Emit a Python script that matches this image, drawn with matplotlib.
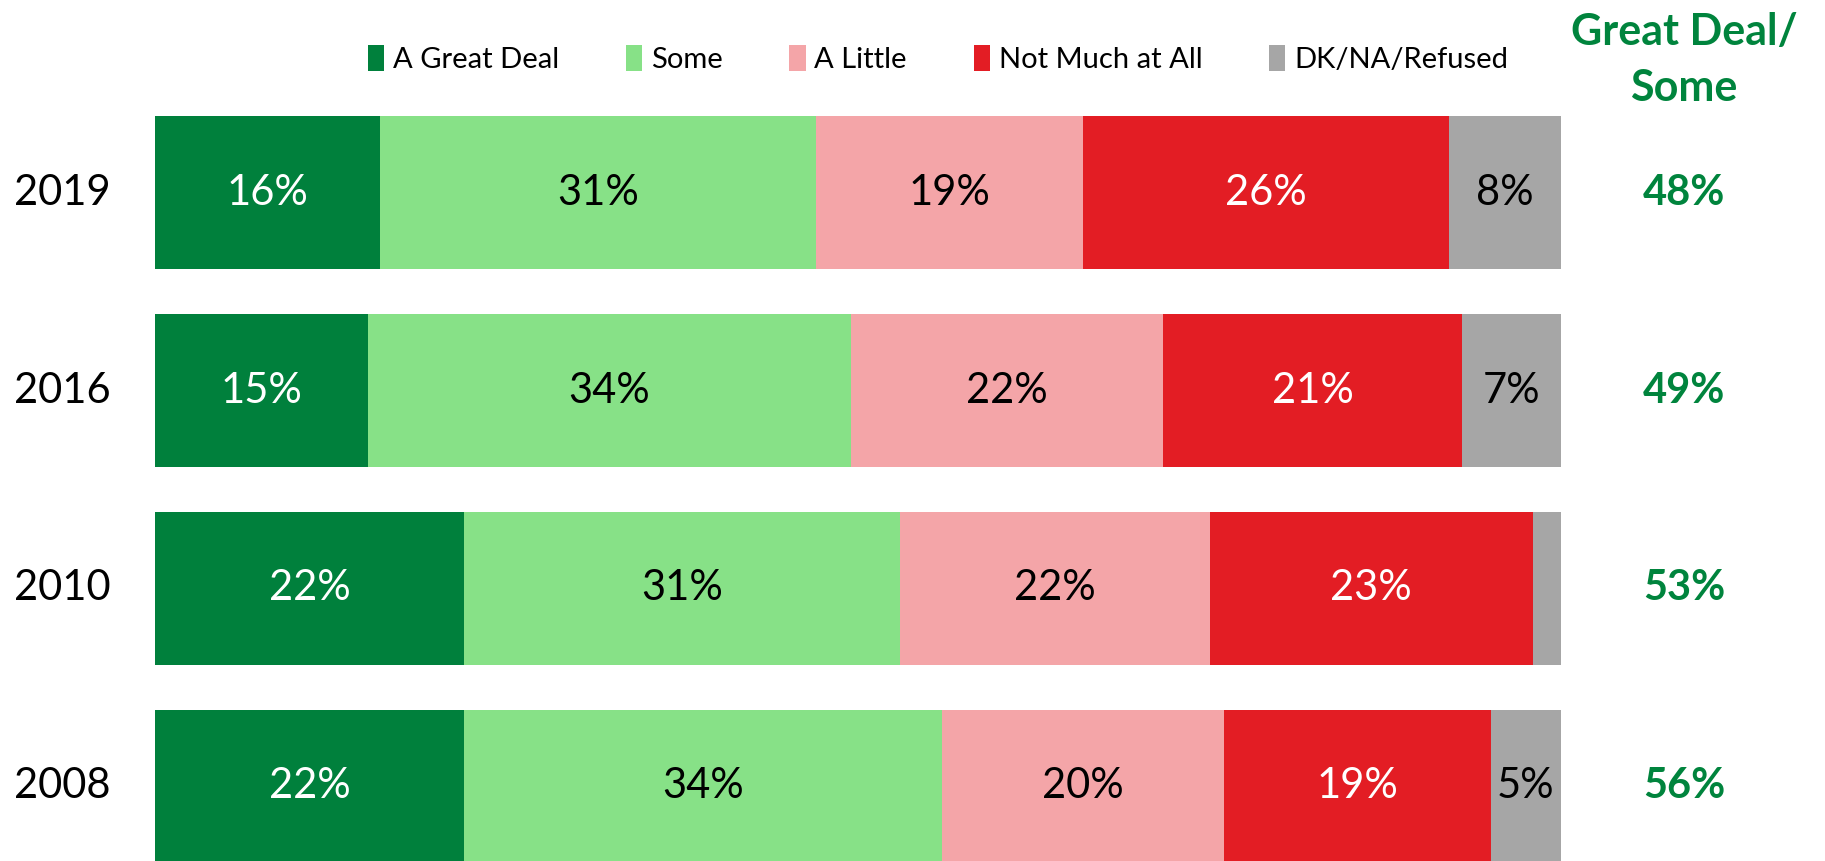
import matplotlib
matplotlib.use("Agg")
import matplotlib.pyplot as plt
import matplotlib.transforms as mtransforms
from matplotlib.patches import Patch
import numpy as np

plt.rcParams['font.family'] = ['Lato', 'DejaVu Sans']

years = ["2019", "2016", "2010", "2008"]
categories = ["A Great Deal", "Some", "A Little", "Not Much at All", "DK/NA/Refused"]
great_deal = [16, 15, 22, 22]
some = [31, 34, 31, 34]
a_little = [19, 22, 22, 20]
not_much = [26, 21, 23, 19]
dk_na = [8, 7, 2, 5]
great_some_labels = ["48%", "49%", "53%", "56%"]

colors = ["#00803C", "#87E187", "#F4A5A8", "#E31D24", "#A6A6A6"]
text_colors = ["white", "black", "black", "white", "black"]
green_text = "#00843D"

series = np.array([great_deal, some, a_little, not_much, dk_na], dtype=float)
totals = series.sum(axis=0)
shares = series / totals * 100  # 100% stacked

W, H = 1825, 861
fig = plt.figure(figsize=(W / 100, H / 100), dpi=100)
ax = fig.add_axes([155 / W, 0, 1406 / W, 1])

y = np.arange(len(years))
left = np.zeros(len(years))
handles = []
for i, cat in enumerate(categories):
    ax.barh(y, shares[i], left=left, height=0.77, color=colors[i],
            linewidth=0, label=cat)
    handles.append(Patch(facecolor=colors[i], label=cat))
    for j in range(len(years)):
        val = series[i][j]
        if val >= 5:
            ax.text(left[j] + shares[i][j] / 2, y[j], f"{int(val)}%",
                    ha="center", va="center", fontsize=30,
                    color=text_colors[i])
    left = left + shares[i]

ax.set_xlim(0, 100)
ax.set_ylim(3.377, -0.973)
ax.axis("off")

# Year labels (left aligned)
trans = mtransforms.blended_transform_factory(fig.transFigure, ax.transData)
for j, yr in enumerate(years):
    ax.text(14 / W, y[j], yr, transform=trans, ha="left", va="center",
            fontsize=30, color="black")

# Great Deal / Some column
for j, lab in enumerate(great_some_labels):
    ax.text(1684 / W, y[j], lab, transform=trans, ha="center", va="center",
            fontsize=30, fontweight="bold", color=green_text)

fig.text(1684 / W, 1 - 60 / H, "Great Deal/\nSome", ha="center", va="center",
         fontsize=31, fontweight="bold", color=green_text, linespacing=1.5)

leg = fig.legend(handles=handles, loc="center", ncol=5,
                 bbox_to_anchor=(938 / W, 1 - 59 / H), frameon=False,
                 fontsize=21, handlelength=0.55, handleheight=1.0,
                 handletextpad=0.3, columnspacing=2.3)

fig.savefig("out.png", dpi=100)
